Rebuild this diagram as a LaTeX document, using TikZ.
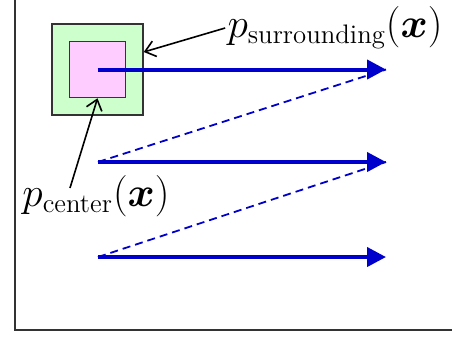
\documentclass[tikz,border=0pt]{standalone}
\usepackage{amsmath}
\usetikzlibrary{arrows.meta,positioning}
\definecolor{zoneGreen}{HTML}{CCFFCC}
\definecolor{zonePink}{HTML}{FFCCFF}
\definecolor{flowBlue}{HTML}{0000CC}

\begin{document}
\begin{tikzpicture}[x=0.5bp, y=-0.5bp,
          box/.style={draw=black!80, line width=0.75bp, minimum size=#1, inner sep=0pt},
          lbl/.style={font=\fontsize{19.2}{23}\selectfont, inner sep=1pt},
          flow/.style={-{Triangle[length=9.5bp, width=9.5bp]}, line width=2bp, flowBlue},
          jump/.style={dashed, dash pattern=on 4bp off 2.5bp, line width=0.9bp, flowBlue},
          pointer/.style={-{Straight Barb[length=5bp, width=8bp]}, line width=0.8bp}]
        \useasboundingbox (0,0) rectangle (452,337);
        \clip (0,0) rectangle (452,337);
        \draw[black!80, line width=0.75bp] (15,-10) rectangle (470,330);
        \node[box=45.5bp, fill=zoneGreen] (outer) at (97.5,69.5) {};
        \node[box=28bp, fill=zonePink] (inner) at (outer.center) {};
        \coordinate (e1) at (386,69.5);
        \coordinate (s2) at (98,162);
        \coordinate (e2) at (386,162);
        \coordinate (s3) at (98,257);
        \coordinate (e3) at (386,257);
        \draw[jump] (s2) -- (e1);
        \draw[jump] (s3) -- (e2);
        \draw[flow] (inner.center) -- (e1);
        \draw[flow] (s2) -- (e2);
        \draw[flow] (s3) -- (e3);
        \node[lbl] (surr) at (335,28) {$p_{\text{surrounding}}(\boldsymbol{x})$};
        \node[lbl] (cent) at (96,196) {$p_{\text{center}}(\boldsymbol{x})$};
        \draw[pointer] (surr.west) -- ([yshift=8.75bp]outer.east);
        \draw[pointer] ([xshift=-13bp, yshift=4bp]cent.center) -- (inner.south);
      \end{tikzpicture}
\end{document}
